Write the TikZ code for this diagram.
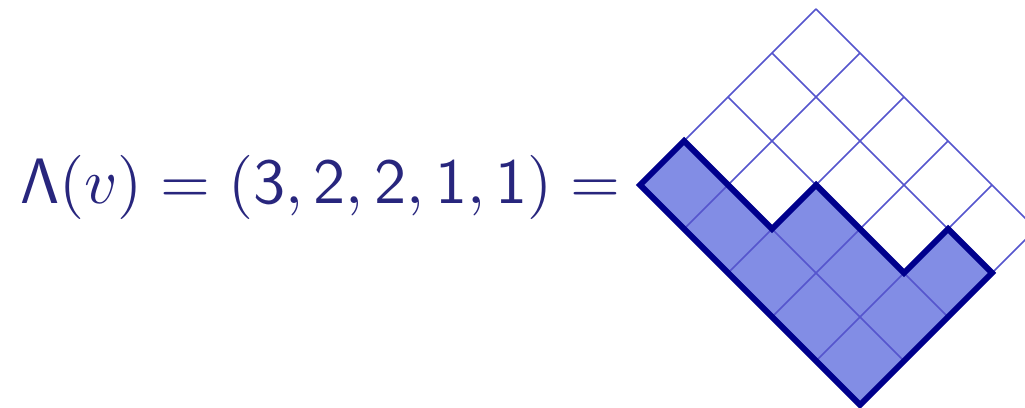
\RequirePackage{fix-cm}
\documentclass[tikz,border=0pt]{standalone}
\usepackage{amsmath,amssymb}
\usepackage{xcolor}
\usepackage{tikz}
\usetikzlibrary{positioning}
\definecolor{formulacol}{RGB}{40,38,125}
\definecolor{cellfill}{RGB}{130,141,229}
\definecolor{gridcol}{RGB}{85,85,205}
\definecolor{edgecol}{RGB}{0,0,140}
\tikzset{
  formula/.style={anchor=base west, inner sep=0pt, text=formulacol,
    font=\fontsize{11}{13}\selectfont, scale=1.66, transform shape},
  gridline/.style={draw=gridcol, line width=0.45pt},
  youngfill/.style={fill=cellfill},
  youngedge/.style={draw=edgecol, line width=1.7pt, line join=miter},
}

\begin{document}
\begin{tikzpicture}
  \clip (0,0) rectangle (10.25,4.08);

  % Formula
  \node[formula] (lambda) at (0.19,2.04)
    {$\mathsf{\Lambda}(v) = (\mathsf{3},\mathsf{2},\mathsf{2},\mathsf{1},\mathsf{1}) =$};

  % Young diagram, Russian convention
  \begin{scope}[shift={(8.60,0.03)}, x={(0.44cm,0.44cm)}, y={(-0.44cm,0.44cm)}]
    \fill[youngfill] (0,0) -- (3,0) -- (3,1) -- (2,1) -- (2,3) -- (1,3)
      -- (1,5) -- (0,5) -- cycle;
    \foreach \i in {0,...,4}
      \draw[gridline] (\i,0) -- (\i,5);
    \foreach \j in {0,...,5}
      \draw[gridline] (0,\j) -- (4,\j);
    \draw[youngedge] (0,0) -- (3,0) -- (3,1) -- (2,1) -- (2,3) -- (1,3)
      -- (1,5) -- (0,5) -- cycle;
  \end{scope}
\end{tikzpicture}
\end{document}
